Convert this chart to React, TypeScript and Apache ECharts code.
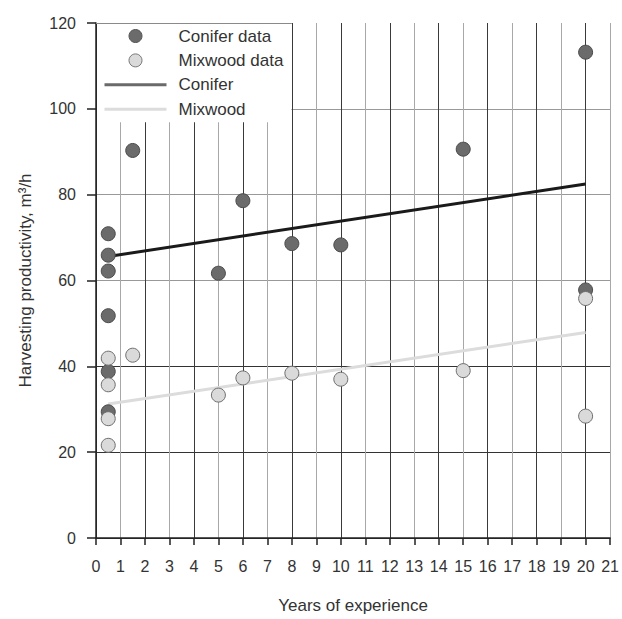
import React, { useEffect, useRef } from "react";
import * as echarts from "echarts";

const coniferX = [0.5, 0.5, 0.5, 0.5, 0.5, 0.5, 1.5, 5, 6, 8, 10, 15, 20, 20];
const coniferY = [70.9, 65.9, 62.2, 51.8, 38.8, 29.4, 90.3, 61.7, 78.6, 68.6, 68.3, 90.6, 113.2, 57.8];
const mixwoodX = [0.5, 0.5, 0.5, 0.5, 1.5, 5, 6, 8, 10, 15, 20, 20];
const mixwoodY = [41.9, 35.7, 27.8, 21.6, 42.6, 33.3, 37.3, 38.4, 37.0, 39.0, 55.8, 28.4];
const coniferFitX = [0.5, 20];
const coniferFitY = [65.6, 82.5];
const mixwoodFitX = [0.5, 20];
const mixwoodFitY = [31.2, 47.9];
const legendNames = ["Conifer data", "Mixwood data", "Conifer", "Mixwood"];
const legendBoxTopEdge = [[0, 120], [8, 120]];

const FONT = "'Liberation Sans', Arial, sans-serif";
const TXT = "#333";

const zip = (xs: number[], ys: number[]) => xs.map((x, i) => [x, ys[i]]);

export default function App() {
  const ref = useRef<HTMLDivElement>(null);
  useEffect(() => {
    if (!ref.current) return;
    const chart = echarts.init(ref.current, undefined, { renderer: "svg" });
    const hidden = { color: "rgba(0,0,0,0)", borderColor: "rgba(0,0,0,0)", borderWidth: 0 };
    chart.setOption({
      animation: false,
      backgroundColor: "#fff",
      textStyle: { fontFamily: FONT },
      grid: { left: 96, right: 10, top: 23, bottom: 80, containLabel: false },
      legend: {
        orient: "vertical",
        left: 97,
        top: 24,
        padding: [2, 8, 3, 6],
        backgroundColor: "#fff",
        itemWidth: 62,
        itemHeight: 13,
        itemGap: 4.4,
        z: 10,
        textStyle: { fontFamily: FONT, fontSize: 17, color: TXT, lineHeight: 20, padding: [0, 0, 0, 7] },
        data: [
          { name: legendNames[0], icon: "circle", itemStyle: { color: "#6b6b6b", borderColor: "#555", borderWidth: 1 } },
          { name: legendNames[1], icon: "circle", itemStyle: { color: "#dadada", borderColor: "#777", borderWidth: 1 } },
          { name: legendNames[2], lineStyle: { color: "#6a6a6a", width: 3 }, itemStyle: hidden },
          { name: legendNames[3], lineStyle: { color: "#dcdcdc", width: 3 }, itemStyle: hidden },
        ],
      },
      xAxis: {
        type: "value",
        min: 0,
        max: 21,
        interval: 1,
        name: "Years of experience",
        nameLocation: "middle",
        nameGap: 59,
        nameTextStyle: { fontFamily: FONT, fontSize: 17, color: TXT },
        axisLine: { show: true, lineStyle: { color: "#222", width: 1.5 } },
        axisTick: { show: true, length: 7, lineStyle: { color: "#222", width: 1.5 } },
        axisLabel: { fontFamily: FONT, fontSize: 16, color: TXT, margin: 20 },
        splitLine: { show: true, showMinLine: true, showMaxLine: true, lineStyle: { color: ["#3a3a3a", "#a8a8a8"], width: 1 } },
      },
      yAxis: {
        type: "value",
        min: 0,
        max: 120,
        interval: 20,
        name: "Harvesting productivity, m³/h",
        nameLocation: "middle",
        nameGap: 62,
        nameTextStyle: { fontFamily: FONT, fontSize: 17, color: TXT },
        axisLine: { show: true, lineStyle: { color: "#222", width: 1.5 } },
        axisTick: { show: true, length: 9, lineStyle: { color: "#222", width: 1.5 } },
        axisLabel: { fontFamily: FONT, fontSize: 16, color: TXT, margin: 20 },
        splitLine: {
          show: true,
          showMinLine: true,
          showMaxLine: true,
          lineStyle: { color: ["#333", "#333", "#333", "#999", "#999", "#999", "rgba(0,0,0,0)"], width: 1 },
        },
      },
      series: [
        {
          name: legendNames[2],
          type: "line",
          data: zip(coniferFitX, coniferFitY),
          symbol: "none",
          lineStyle: { color: "#1a1a1a", width: 3 },
          itemStyle: { color: "#6a6a6a" },
          z: 2,
          markLine: {
            silent: true,
            symbol: ["none", "none"],
            label: { show: false },
            lineStyle: { color: "#8a8a8a", type: "solid", width: 1 },
            data: [[{ coord: legendBoxTopEdge[0] }, { coord: legendBoxTopEdge[1] }]],
          },
        },
        {
          name: legendNames[3],
          type: "line",
          data: zip(mixwoodFitX, mixwoodFitY),
          symbol: "none",
          lineStyle: { color: "#dcdcdc", width: 3 },
          itemStyle: { color: "#dcdcdc" },
          z: 2,
        },
        {
          name: legendNames[0],
          type: "scatter",
          data: zip(coniferX, coniferY),
          symbolSize: 14,
          itemStyle: { color: "#6b6b6b", borderColor: "#4a4a4a", borderWidth: 1, opacity: 1 },
          z: 3,
        },
        {
          name: legendNames[1],
          type: "scatter",
          data: zip(mixwoodX, mixwoodY),
          symbolSize: 14,
          itemStyle: { color: "#dadada", borderColor: "#6e6e6e", borderWidth: 1, opacity: 1 },
          z: 3,
        },
      ],
    });
    return () => chart.dispose();
  }, []);
  return <div ref={ref} style={{ position: "absolute", left: 0, top: 0, width: 622, height: 619 }} />;
}
